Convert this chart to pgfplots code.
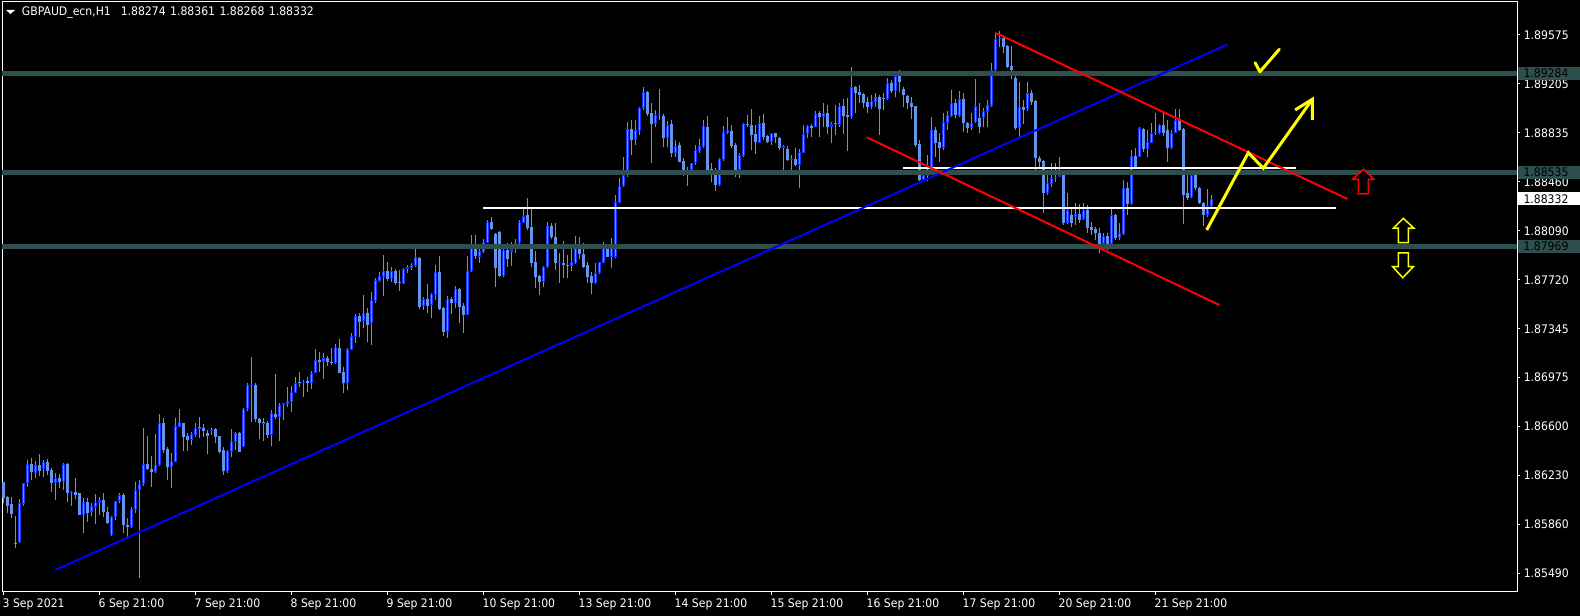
\documentclass[border=0pt]{standalone}
\usepackage{pgfplots}
\pgfplotsset{compat=1.18}
\usepackage{pgfplotstable}
\usepackage{fontspec}
\setmainfont{DejaVu Sans}[FakeStretch=0.92]

\definecolor{cndl}{RGB}{100,149,237}
\definecolor{bullc}{RGB}{20,50,255}
\definecolor{zone}{RGB}{47,79,79}
\definecolor{tline}{RGB}{0,0,255}
\definecolor{chred}{RGB}{255,0,0}
\definecolor{chyel}{RGB}{255,255,0}
\newcommand\mtf{\fontsize{11.8bp}{13bp}\selectfont}

% GBPAUD H1 candles, k = bar number from 3 Sep 2021 21:00
\pgfplotstableread{
k o h l c
0 1.86182 1.86182 1.86023 1.86061
1 1.86074 1.86079 1.85947 1.86003
2 1.86018 1.86074 1.85914 1.85942
3 1.85725 1.85927 1.85687 1.85715
4 1.85730 1.86053 1.85725 1.86023
5 1.86018 1.86175 1.86003 1.86175
6 1.86175 1.86352 1.86144 1.86321
7 1.86321 1.86364 1.86200 1.86263
8 1.86256 1.86347 1.86213 1.86314
9 1.86314 1.86397 1.86230 1.86271
10 1.86281 1.86352 1.86225 1.86337
11 1.86337 1.86357 1.86235 1.86271
12 1.86276 1.86289 1.86112 1.86175
13 1.86175 1.86251 1.86048 1.86213
14 1.86218 1.86246 1.86137 1.86187
15 1.86187 1.86326 1.86124 1.86321
16 1.86321 1.86326 1.86031 1.86104
17 1.86104 1.86119 1.86003 1.86112
18 1.86107 1.86213 1.86053 1.86086
19 1.86099 1.86104 1.85935 1.85935
20 1.85935 1.86064 1.85801 1.86033
21 1.86033 1.86061 1.85884 1.85952
22 1.85960 1.86028 1.85927 1.86003
23 1.85998 1.86091 1.85866 1.86033
24 1.86028 1.86074 1.85935 1.86048
25 1.86048 1.86104 1.85922 1.85960
26 1.85957 1.85998 1.85866 1.85876
27 1.85780 1.85927 1.85775 1.85919
28 1.85917 1.86043 1.85897 1.86043
29 1.86043 1.86099 1.86023 1.86086
30 1.86086 1.86099 1.85796 1.85859
31 1.85859 1.85909 1.85765 1.85846
32 1.85846 1.85998 1.85833 1.85978
33 1.85973 1.86182 1.85947 1.86124
34 1.86124 1.86200 1.85459 1.86167
35 1.86167 1.86594 1.86155 1.86321
36 1.86321 1.86534 1.86276 1.86281
37 1.86283 1.86382 1.86149 1.86263
38 1.86263 1.86549 1.86256 1.86311
39 1.86311 1.86701 1.86306 1.86630
40 1.86630 1.86668 1.86402 1.86428
41 1.86433 1.86453 1.86200 1.86296
42 1.86296 1.86402 1.86142 1.86344
43 1.86339 1.86668 1.86334 1.86610
44 1.86605 1.86739 1.86600 1.86637
45 1.86630 1.86635 1.86423 1.86529
46 1.86534 1.86554 1.86423 1.86503
47 1.86503 1.86564 1.86463 1.86549
48 1.86541 1.86630 1.86529 1.86592
49 1.86592 1.86680 1.86516 1.86594
50 1.86594 1.86625 1.86529 1.86574
51 1.86554 1.86579 1.86397 1.86536
52 1.86574 1.86594 1.86539 1.86579
53 1.86587 1.86592 1.86478 1.86529
54 1.86534 1.86534 1.86402 1.86415
55 1.86428 1.86453 1.86241 1.86271
56 1.86271 1.86428 1.86251 1.86417
57 1.86415 1.86589 1.86372 1.86498
58 1.86491 1.86567 1.86428 1.86554
59 1.86554 1.86567 1.86415 1.86415
60 1.86453 1.86744 1.86448 1.86736
61 1.86736 1.86938 1.86721 1.86921
62 1.86921 1.87135 1.86642 1.86926
63 1.86921 1.86938 1.86642 1.86663
64 1.86663 1.86668 1.86514 1.86630
65 1.86630 1.86668 1.86498 1.86635
66 1.86630 1.86650 1.86516 1.86541
67 1.86539 1.86731 1.86458 1.86706
68 1.86698 1.87004 1.86660 1.86675
69 1.86675 1.86782 1.86498 1.86769
70 1.86769 1.86787 1.86655 1.86782
71 1.86774 1.86908 1.86756 1.86799
72 1.86794 1.86913 1.86716 1.86865
73 1.86862 1.86979 1.86857 1.86933
74 1.86933 1.87019 1.86908 1.86938
75 1.86938 1.86958 1.86832 1.86946
76 1.86951 1.86984 1.86870 1.86933
77 1.86933 1.87029 1.86888 1.87009
78 1.87009 1.87191 1.87009 1.87110
79 1.87110 1.87173 1.87022 1.87098
80 1.87098 1.87166 1.86969 1.87123
81 1.87123 1.87141 1.87065 1.87098
82 1.87098 1.87199 1.87072 1.87090
83 1.87090 1.87232 1.87080 1.87206
84 1.87199 1.87267 1.87009 1.87014
85 1.87019 1.87060 1.86857 1.86938
86 1.86938 1.87199 1.86883 1.87191
87 1.87186 1.87312 1.87186 1.87292
88 1.87287 1.87459 1.87242 1.87444
89 1.87444 1.87469 1.87287 1.87401
90 1.87409 1.87603 1.87350 1.87464
91 1.87464 1.87502 1.87249 1.87378
92 1.87388 1.87628 1.87224 1.87565
93 1.87560 1.87730 1.87540 1.87717
94 1.87712 1.87780 1.87704 1.87747
95 1.87742 1.87907 1.87596 1.87783
96 1.87783 1.87856 1.87712 1.87727
97 1.87722 1.87813 1.87704 1.87783
98 1.87785 1.87798 1.87679 1.87692
99 1.87692 1.87793 1.87636 1.87687
100 1.87687 1.87805 1.87687 1.87800
101 1.87800 1.87831 1.87773 1.87813
102 1.87805 1.87848 1.87793 1.87828
103 1.87823 1.87950 1.87818 1.87889
104 1.87884 1.87889 1.87494 1.87515
105 1.87520 1.87585 1.87489 1.87570
106 1.87570 1.87687 1.87469 1.87520
107 1.87525 1.87616 1.87431 1.87608
108 1.87603 1.87831 1.87565 1.87775
109 1.87775 1.87899 1.87489 1.87500
110 1.87502 1.87515 1.87292 1.87325
111 1.87325 1.87596 1.87275 1.87570
112 1.87570 1.87591 1.87459 1.87545
113 1.87545 1.87671 1.87502 1.87646
114 1.87649 1.87654 1.87393 1.87515
115 1.87520 1.87540 1.87317 1.87451
116 1.87451 1.87899 1.87449 1.87788
117 1.87788 1.88058 1.87780 1.87957
118 1.87970 1.88058 1.87874 1.87899
119 1.87894 1.87957 1.87848 1.87937
120 1.87932 1.88025 1.87924 1.88008
121 1.88000 1.88172 1.87995 1.88154
122 1.88159 1.88192 1.88096 1.88106
123 1.88066 1.88071 1.87666 1.87810
124 1.88084 1.88091 1.87742 1.87747
125 1.87747 1.87965 1.87742 1.87944
126 1.87944 1.88000 1.87818 1.87874
127 1.87932 1.88008 1.87823 1.87952
128 1.87950 1.88025 1.87919 1.88000
129 1.87995 1.88172 1.87957 1.88159
130 1.88152 1.88260 1.88152 1.88202
131 1.88210 1.88336 1.88096 1.88109
132 1.88121 1.88253 1.87813 1.87848
133 1.87856 1.87939 1.87654 1.87742
134 1.87747 1.87755 1.87603 1.87704
135 1.87704 1.87823 1.87661 1.87818
136 1.87813 1.88159 1.87808 1.88126
137 1.88126 1.88147 1.88025 1.88041
138 1.88041 1.88147 1.87793 1.87848
139 1.87848 1.87919 1.87697 1.87856
140 1.87848 1.88010 1.87730 1.87831
141 1.87831 1.87907 1.87730 1.87823
142 1.87823 1.87970 1.87788 1.87853
143 1.87848 1.88051 1.87838 1.87957
144 1.87962 1.88046 1.87874 1.87912
145 1.87914 1.87995 1.87805 1.87818
146 1.87828 1.87856 1.87692 1.87737
147 1.87747 1.87780 1.87611 1.87697
148 1.87692 1.87848 1.87687 1.87773
149 1.87767 1.87856 1.87762 1.87856
150 1.87848 1.88008 1.87843 1.87957
151 1.87965 1.87990 1.87889 1.87889
152 1.87894 1.88033 1.87805 1.87965
153 1.87889 1.88362 1.87881 1.88306
154 1.88303 1.88488 1.88298 1.88430
155 1.88430 1.88652 1.88420 1.88513
156 1.88513 1.88918 1.88501 1.88862
157 1.88862 1.88930 1.88665 1.88779
158 1.88779 1.88930 1.88741 1.88855
159 1.88849 1.89032 1.88817 1.89019
160 1.89019 1.89183 1.89006 1.89140
161 1.89143 1.89153 1.88961 1.88976
162 1.88986 1.89057 1.88602 1.88900
163 1.88900 1.89006 1.88880 1.88968
164 1.88968 1.89163 1.88930 1.88976
165 1.88961 1.88976 1.88723 1.88796
166 1.88796 1.88925 1.88723 1.88892
167 1.88898 1.88930 1.88647 1.88683
168 1.88683 1.88779 1.88652 1.88733
169 1.88738 1.88766 1.88614 1.88614
170 1.88619 1.88640 1.88506 1.88539
171 1.88539 1.88576 1.88430 1.88513
172 1.88551 1.88607 1.88526 1.88602
173 1.88602 1.88741 1.88589 1.88703
174 1.88698 1.88784 1.88683 1.88733
175 1.88728 1.88930 1.88716 1.88885
176 1.88880 1.88961 1.88551 1.88551
177 1.88556 1.88602 1.88463 1.88513
178 1.88513 1.88564 1.88394 1.88437
179 1.88437 1.88640 1.88430 1.88632
180 1.88627 1.88885 1.88622 1.88839
181 1.88834 1.88956 1.88824 1.88855
182 1.88849 1.88892 1.88716 1.88733
183 1.88741 1.88753 1.88501 1.88551
184 1.88551 1.88678 1.88488 1.88665
185 1.88657 1.88905 1.88652 1.88898
186 1.88892 1.88968 1.88880 1.88885
187 1.88892 1.89011 1.88703 1.88817
188 1.88824 1.88892 1.88673 1.88766
189 1.88758 1.88961 1.88753 1.88905
190 1.88905 1.88976 1.88779 1.88799
191 1.88809 1.88817 1.88753 1.88766
192 1.88766 1.88834 1.88741 1.88829
193 1.88829 1.88834 1.88758 1.88799
194 1.88791 1.88799 1.88703 1.88716
195 1.88716 1.88741 1.88551 1.88733
196 1.88708 1.88733 1.88622 1.88627
197 1.88627 1.88665 1.88551 1.88637
198 1.88632 1.88716 1.88582 1.88592
199 1.88589 1.88708 1.88412 1.88685
200 1.88683 1.88892 1.88678 1.88824
201 1.88824 1.88892 1.88791 1.88885
202 1.88885 1.88900 1.88804 1.88872
203 1.88880 1.89001 1.88880 1.88976
204 1.88986 1.89001 1.88804 1.88951
205 1.88951 1.89057 1.88880 1.88986
206 1.88986 1.89044 1.88824 1.88880
207 1.88880 1.88918 1.88753 1.88900
208 1.88900 1.89044 1.88817 1.88895
209 1.88895 1.89057 1.88880 1.89037
210 1.89037 1.89087 1.88824 1.88961
211 1.88968 1.89095 1.88698 1.88951
212 1.88951 1.89335 1.88935 1.89178
213 1.89178 1.89188 1.88986 1.89138
214 1.89143 1.89196 1.89062 1.89120
215 1.89128 1.89138 1.89019 1.89062
216 1.89067 1.89107 1.88981 1.89026
217 1.89026 1.89120 1.89011 1.89077
218 1.89069 1.89138 1.89032 1.89102
219 1.89102 1.89120 1.88817 1.89011
220 1.89087 1.89133 1.89006 1.89082
221 1.89087 1.89246 1.89082 1.89214
222 1.89214 1.89234 1.89133 1.89153
223 1.89153 1.89272 1.89102 1.89264
224 1.89264 1.89310 1.89145 1.89221
225 1.89163 1.89183 1.89026 1.89120
226 1.89112 1.89120 1.89011 1.89062
227 1.89062 1.89102 1.88935 1.89032
228 1.89037 1.89037 1.88723 1.88741
229 1.88748 1.88779 1.88470 1.88475
230 1.88475 1.88521 1.88470 1.88513
231 1.88506 1.88665 1.88470 1.88576
232 1.88556 1.88951 1.88551 1.88855
233 1.88855 1.88875 1.88647 1.88759
234 1.88764 1.88829 1.88614 1.88718
235 1.88718 1.88981 1.88703 1.88918
236 1.88910 1.89001 1.88855 1.88968
237 1.88961 1.89158 1.88956 1.89062
238 1.89062 1.89087 1.88943 1.88968
239 1.88961 1.89153 1.88956 1.89087
240 1.89087 1.89138 1.88842 1.88905
241 1.88910 1.88918 1.88834 1.88867
242 1.88867 1.88981 1.88855 1.88910
243 1.88918 1.89239 1.88910 1.89037
244 1.88943 1.89057 1.88834 1.88875
245 1.88943 1.89019 1.88875 1.89001
246 1.88994 1.89082 1.88875 1.89044
247 1.89037 1.89360 1.89032 1.89310
248 1.89310 1.89593 1.89305 1.89542
249 1.89542 1.89608 1.89487 1.89550
250 1.89550 1.89568 1.89441 1.89487
251 1.89492 1.89499 1.89322 1.89335
252 1.89340 1.89492 1.89239 1.89310
253 1.89246 1.89272 1.88855 1.88867
254 1.88867 1.89221 1.88784 1.89026
255 1.89026 1.89082 1.88900 1.89006
256 1.89011 1.89221 1.89001 1.89138
257 1.89138 1.89158 1.89044 1.89069
258 1.89077 1.89082 1.88551 1.88640
259 1.88640 1.88657 1.88564 1.88614
260 1.88622 1.88627 1.88228 1.88374
261 1.88374 1.88513 1.88362 1.88450
262 1.88445 1.88602 1.88425 1.88488
263 1.88488 1.88607 1.88463 1.88501
264 1.88496 1.88652 1.88496 1.88513
265 1.88513 1.88521 1.88134 1.88147
266 1.88147 1.88374 1.88142 1.88248
267 1.88210 1.88273 1.88121 1.88147
268 1.88197 1.88303 1.88134 1.88218
269 1.88218 1.88293 1.88147 1.88172
270 1.88177 1.88303 1.88172 1.88248
271 1.88248 1.88286 1.88076 1.88109
272 1.88121 1.88159 1.88058 1.88096
273 1.88101 1.88121 1.88020 1.88071
274 1.88076 1.88109 1.87919 1.87990
275 1.87990 1.88071 1.87944 1.88051
276 1.88051 1.88071 1.87944 1.87990
277 1.87990 1.88260 1.87982 1.88210
278 1.88210 1.88218 1.88020 1.88033
279 1.88033 1.88147 1.88020 1.88071
280 1.88066 1.88475 1.88058 1.88412
281 1.88412 1.88463 1.88210 1.88293
282 1.88293 1.88703 1.88286 1.88657
283 1.88657 1.88716 1.88556 1.88576
284 1.88652 1.88880 1.88647 1.88867
285 1.88860 1.88867 1.88690 1.88708
286 1.88708 1.88855 1.88652 1.88766
287 1.88758 1.88910 1.88753 1.88834
288 1.88834 1.88981 1.88817 1.88842
289 1.88834 1.88900 1.88824 1.88890
290 1.88890 1.88981 1.88809 1.88829
291 1.88855 1.88930 1.88614 1.88716
292 1.88716 1.88855 1.88708 1.88834
293 1.88834 1.89011 1.88829 1.88930
294 1.88930 1.89011 1.88850 1.88855
295 1.88860 1.88867 1.88142 1.88362
296 1.88374 1.88539 1.88324 1.88336
297 1.88344 1.88539 1.88336 1.88513
298 1.88513 1.88539 1.88400 1.88412
299 1.88412 1.88425 1.88293 1.88303
300 1.88303 1.88311 1.88126 1.88210
301 1.88210 1.88405 1.88197 1.88278
302 1.88274 1.88361 1.88268 1.88332
}\candles

\begin{document}
\begin{tikzpicture}
\begin{axis}[
  at={(2bp,24bp)}, anchor=south west,
  scale only axis, width=1515bp, height=590bp,
  xmin=-0.375, xmax=378.375,
  ymin=1.85350, ymax=1.89825,
  set layers, clip mode=individual,
  axis line style={white, line width=1bp},
  tick style={white, line width=1bp},
  tick align=outside, major tick length=3bp,
  xtick pos=bottom, ytick pos=right,
  xtick={0,24,...,288},
  xticklabels={3 Sep 2021,6 Sep 21:00,7 Sep 21:00,8 Sep 21:00,9 Sep 21:00,10 Sep 21:00,13 Sep 21:00,14 Sep 21:00,15 Sep 21:00,16 Sep 21:00,17 Sep 21:00,20 Sep 21:00,21 Sep 21:00},
  xticklabel style={anchor=north west, inner sep=0pt, text=white, font=\mtf, xshift=-1bp, yshift=-4bp},
  ytick={1.89575,1.892036,1.888323,1.884609,1.880895,1.877182,1.873468,1.869755,1.866041,1.862327,1.858614,1.854900},
  yticklabels={1.89575,1.89205,1.88835,1.88460,1.88090,1.87720,1.87345,1.86975,1.86600,1.86230,1.85860,1.85490},
  yticklabel style={anchor=west, inner sep=0pt, text=white, font=\mtf, xshift=3.6bp},
]
\begin{pgfonlayer}{axis background}
\fill[black] (rel axis cs:-0.01,-0.06) rectangle (rel axis cs:1.06,1.02);
\end{pgfonlayer}

% candles: wicks, bodies, bull outline
\addplot[cndl, line width=1bp, quiver={u=0, v=\thisrow{h}-\thisrow{l}}]
  table[x=k, y=l] {\candles};
\addplot[cndl, line width=3bp,
  quiver={u=0, v={abs(\thisrow{c}-\thisrow{o})<0.00008 ? 0.00008 : \thisrow{c}-\thisrow{o}}}]
  table[x=k, y=o] {\candles};
\addplot[bullc, line width=3bp, quiver={u=0, v=\thisrow{c}-\thisrow{o}}]
  table[x=k, y expr={\thisrow{c}>\thisrow{o} ? \thisrow{o} : nan}] {\candles};
\addplot[cndl, line width=1bp, quiver={u=0, v=\thisrow{c}-\thisrow{o}-0.00015}]
  table[x=k, y expr={\thisrow{c}-\thisrow{o}>0.0002 ? \thisrow{o}+0.000075 : nan}] {\candles};

% support / resistance zones
\addplot[zone, line width=5bp] coordinates {(-1,1.89284) (380,1.89284)};
\addplot[zone, line width=5bp] coordinates {(-1,1.88535) (380,1.88535)};
\addplot[zone, line width=5bp] coordinates {(-1,1.87969) (380,1.87969)};

% white levels
\addplot[white, line width=2bp] coordinates {(224.95,1.88568) (323.05,1.88568)};
\addplot[white, line width=2bp] coordinates {(119.9,1.88265) (333.05,1.88265)};

% trend line and channel
\addplot[tline, line width=2bp] coordinates {(12.95,1.85517) (306.05,1.89504)};
\addplot[chred, line width=2bp] coordinates {(247.95,1.89592) (335.95,1.88331)};
\addplot[chred, line width=2bp] coordinates {(215.8,1.88799) (303.95,1.87527)};

% projected path
\addplot[chyel, line width=3bp, line join=miter] coordinates
  {(300.8,1.88096) (311.2,1.88682) (314.95,1.88564) (327.2,1.89087)};
\addplot[chyel, line width=3bp, line join=miter] coordinates
  {(322.9,1.89006) (327.2,1.89087) (327.2,1.88930)};
\addplot[chyel, line width=3bp, line join=round, line cap=round] coordinates
  {(312.9,1.89364) (314.1,1.89296) (318.95,1.89466)};

% arrows
\addplot[chred, line width=1.5bp, fill=black] coordinates
  {(340.0,1.88556) (342.6,1.88480) (341.2,1.88480) (341.2,1.88369) (338.7,1.88369) (338.7,1.88480) (337.3,1.88480)} --cycle;
\addplot[chyel, line width=1.5bp, fill=black] coordinates
  {(349.95,1.88184) (352.6,1.88109) (351.2,1.88109) (351.2,1.87999) (348.7,1.87999) (348.7,1.88109) (347.45,1.88109)} --cycle;
\addplot[chyel, line width=1.5bp, fill=black] coordinates
  {(348.7,1.87923) (351.2,1.87923) (351.2,1.87817) (352.45,1.87817) (349.8,1.87734) (347.3,1.87817) (348.7,1.87817)} --cycle;

% price labels on the scale
\node[fill=zone, text=black, anchor=west, font=\mtf, inner xsep=0pt, inner ysep=0pt,
  minimum height=13bp, text width=63bp, align=left, xshift=0.8bp]
  at (axis cs:378.375,1.89284) {\hspace*{5.5bp}1.89284};
\node[fill=zone, text=black, anchor=west, font=\mtf, inner xsep=0pt, inner ysep=0pt,
  minimum height=13bp, text width=63bp, align=left, xshift=0.8bp]
  at (axis cs:378.375,1.88535) {\hspace*{5.5bp}1.88535};
\node[fill=zone, text=black, anchor=west, font=\mtf, inner xsep=0pt, inner ysep=0pt,
  minimum height=13bp, text width=63bp, align=left, xshift=0.8bp]
  at (axis cs:378.375,1.87969) {\hspace*{5.5bp}1.87969};
\node[fill=white, text=black, anchor=west, font=\mtf, inner xsep=0pt, inner ysep=0pt,
  minimum height=13bp, text width=63bp, align=left, xshift=0.8bp]
  at (axis cs:378.375,1.88332) {\hspace*{5.5bp}1.88332};
\end{axis}

\fill[white] (6bp,606bp) -- (15bp,606bp) -- (10.5bp,602bp) -- cycle;
\node[anchor=base west, inner sep=0pt, text=white, font=\mtf] at (21.7bp,600bp)
  {GBPAUD\_ecn,H1\hspace{10bp}1.88274\hspace{4.5bp}1.88361\hspace{4.5bp}1.88268\hspace{4.5bp}1.88332};

\pgfresetboundingbox
\path[use as bounding box] (0,0) rectangle (1580bp,616bp);
\end{tikzpicture}
\end{document}
